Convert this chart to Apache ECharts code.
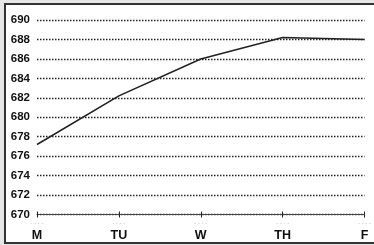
<!DOCTYPE html>
<html>
<head>
<meta charset="utf-8">
<script src="https://cdn.jsdelivr.net/npm/echarts@6/dist/echarts.min.js"></script>
<style>
  html, body { margin: 0; padding: 0; background: #e6e6e6; }
  #chart { width: 374px; height: 245px; }
</style>
</head>
<body>
<div id="chart"></div>
<script>
// days on the x axis
var days = ['M', 'TU', 'W', 'TH', 'F'];
// values
var values = [677.2, 682.2, 686.0, 688.2, 688.0];
// y axis range
var yMin = 670;
var yMax = 690;
var yStep = 2;

var chart = echarts.init(document.getElementById('chart'));

var option = {
  animation: false,
  backgroundColor: '#e6e6e6',
  graphic: [
    {
      type: 'rect',
      z: -10,
      shape: { x: 5, y: 4, width: 400, height: 239 },
      style: { fill: '#fff', stroke: '#333', lineWidth: 2 }
    }
  ],
  grid: { left: 37, right: 1.5, top: 20, bottom: 30.5 },
  xAxis: [
    {
      type: 'category',
      data: days,
      boundaryGap: false,
      axisLine: { lineStyle: { color: '#444', width: 1 } },
      axisTick: { show: true, inside: false, length: 3, lineStyle: { color: '#222' } },
      axisLabel: {
        margin: 4,
        interval: 0,
        formatter: function (v) { return '{s|- - - -}\n{b|' + v + '}'; },
        rich: {
          s: { fontSize: 6, color: '#bbb', lineHeight: 10 },
          b: { fontSize: 12.5, fontWeight: 'bold', color: '#111', fontFamily: 'Liberation Sans', lineHeight: 14 }
        }
      },
      splitLine: { show: false }
    },
    {
      type: 'category',
      data: days,
      boundaryGap: false,
      position: 'bottom',
      axisLine: { show: false },
      axisTick: { show: true, inside: true, length: 3, lineStyle: { color: '#222' } },
      axisLabel: { show: false }
    }
  ],
  yAxis: {
    type: 'value',
    min: yMin,
    max: yMax,
    interval: yStep,
    axisLine: { show: false },
    axisTick: { show: false },
    axisLabel: {
      margin: 7,
      color: '#111',
      fontSize: 11.5,
      fontWeight: 'bold',
      fontFamily: 'Liberation Sans'
    },
    splitLine: { lineStyle: { type: [1.5, 1.5], color: '#222', width: 1.3 } }
  },
  series: [
    {
      type: 'line',
      data: values,
      showSymbol: false,
      symbol: 'none',
      lineStyle: { color: '#222', width: 1.6 }
    }
  ]
};

chart.setOption(option);
</script>
</body>
</html>
